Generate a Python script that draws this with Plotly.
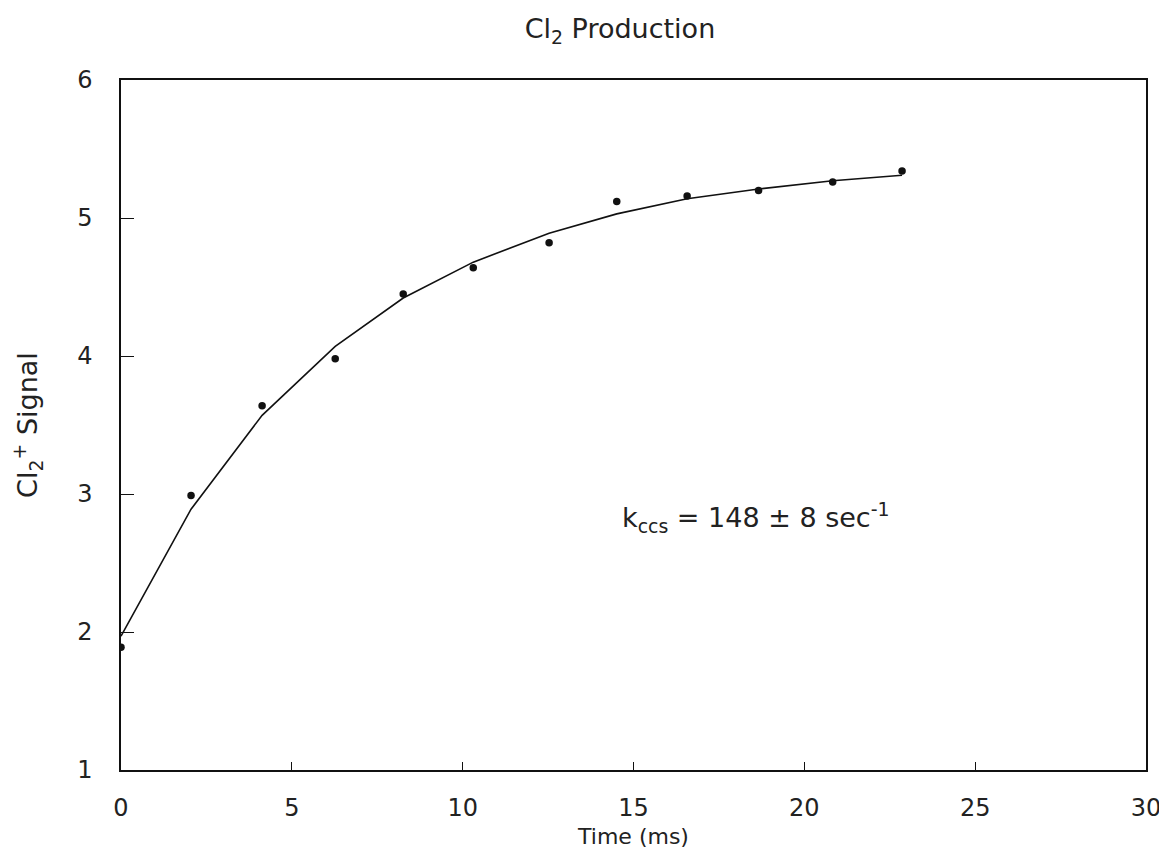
import plotly.graph_objects as go

# Measured data points (time in ms, Cl2+ signal)
time_ms = [0.0, 2.05, 4.13, 6.27, 8.26, 10.31, 12.53, 14.51, 16.57, 18.66, 20.83, 22.86]
signal = [1.89, 2.99, 3.64, 3.98, 4.45, 4.64, 4.82, 5.12, 5.16, 5.20, 5.26, 5.34]

# Fitted curve values read at the same times
fit_signal = [1.97, 2.89, 3.57, 4.07, 4.42, 4.68, 4.89, 5.03, 5.14, 5.21, 5.27, 5.31]

x_ticks = [0, 5, 10, 15, 20, 25, 30]
y_ticks = [1, 2, 3, 4, 5, 6]

title_text = 'Cl<sub>2</sub> Production'
x_title = "Time (ms)"
y_title = "Cl<sub>2</sub><sup>+</sup> Signal"
annot_text = "k<sub>ccs</sub> = 148 ± 8 sec<sup>-1</sup>"

font_family = "DejaVu Sans, Liberation Sans, sans-serif"
ink = "#111111"
label_ink = "#222222"

fig = go.Figure()
fig.add_trace(go.Scatter(
    x=time_ms, y=fit_signal, mode="lines",
    line=dict(color=ink, width=1.6), showlegend=False, hoverinfo="skip"))
fig.add_trace(go.Scatter(
    x=time_ms, y=signal, mode="markers",
    marker=dict(color=ink, size=7.5), showlegend=False))

fig.add_annotation(
    x=14.6, y=2.83, xref="x", yref="y", text=annot_text, showarrow=False,
    xanchor="left", yanchor="middle",
    font=dict(family=font_family, size=27, color=label_ink))

axis_common = dict(
    showline=True, linecolor=ink, linewidth=1.5, mirror=True,
    ticks="inside", tickcolor=ink, tickwidth=1.2,
    showgrid=False, zeroline=False, automargin=False,
    tickfont=dict(family=font_family, size=24, color=label_ink),
)

fig.update_xaxes(
    range=[0, 30], tickvals=x_ticks, ticklen=8, ticklabelstandoff=15,
    title=dict(text=x_title, font=dict(family=font_family, size=22, color=label_ink), standoff=8),
    **axis_common)
fig.update_yaxes(
    range=[1, 6], tickvals=y_ticks, ticklen=13, ticklabelstandoff=22,
    title=dict(text=y_title, font=dict(family=font_family, size=27, color=label_ink), standoff=34),
    **axis_common)

# page body has an 8px default margin, so the figure is sized to fit the window
fig.update_layout(
    width=1159, height=859,
    paper_bgcolor="white", plot_bgcolor="white",
    margin=dict(l=113, r=21, t=72, b=97),
    title=dict(text=title_text, x=0.528, xanchor="center", y=0.976, yanchor="middle",
               font=dict(family=font_family, size=27, color=label_ink)),
    font=dict(family=font_family, color=ink),
)

fig.write_html("out.html")
